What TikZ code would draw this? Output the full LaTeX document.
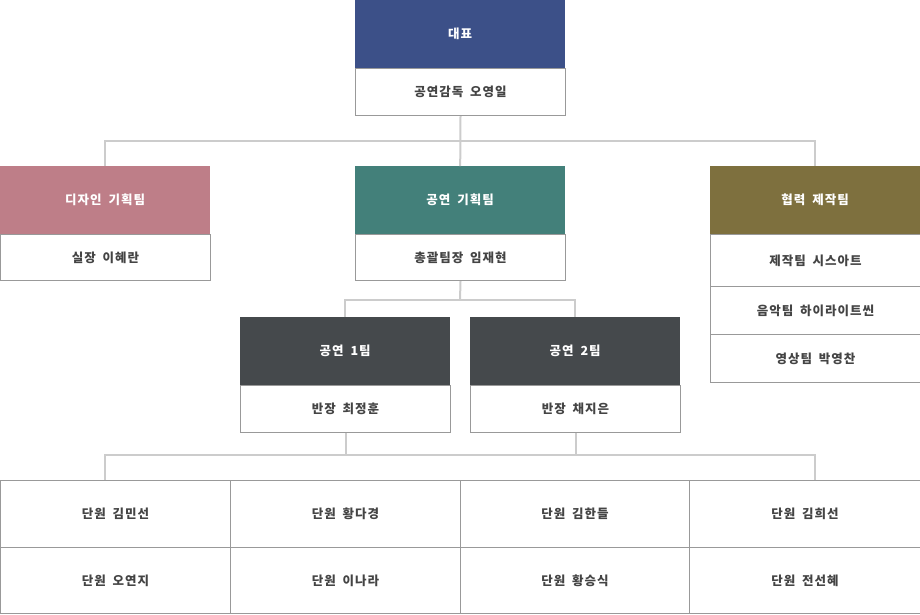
\documentclass[tikz,border=0pt]{standalone}
\usepackage{fontspec}
\setmainfont{Noto Sans CJK KR}[LetterSpace=8,WordSpace=1.8]
\definecolor{cCeo}{HTML}{3C5088}
\definecolor{cDesign}{HTML}{BE7E88}
\definecolor{cPlan}{HTML}{43807A}
\definecolor{cCoop}{HTML}{7E703E}
\definecolor{cTeam}{HTML}{45494C}
\definecolor{cBorder}{HTML}{999999}
\definecolor{cConn}{HTML}{CCCCCC}
\definecolor{cText}{HTML}{444444}
\tikzset{
  hdr/.style={anchor=north west, inner sep=0pt, minimum width=210pt, minimum height=68pt,
    text=white, font=\fontsize{12.5}{15}\selectfont\bfseries},
  bodybox/.style={anchor=north west, inner sep=0pt, minimum width=210pt, draw=cBorder, line width=1pt,
    fill=white, text=cText, font=\fontsize{12.5}{15}\selectfont\bfseries},
  conn/.style={draw=cConn, line width=2pt},
}
\begin{document}
\begin{tikzpicture}[x=1pt,y=-1pt]
\useasboundingbox (0,0) rectangle (920,614);
\coordinate (j1) at (460,141);
\coordinate (j2) at (460,300);
\coordinate (j3) at (460,455);
\coordinate (c1) at (105,480);
\coordinate (c4) at (815,480);
% CEO
\node[hdr, fill=cCeo] (ceo) at (355,0) {대표};
\node[bodybox, minimum height=47pt] (ceoB) at (355,68) {공연감독 오영일};
% second level
\node[hdr, fill=cDesign] (design) at (0,166) {디자인 기획팀};
\node[bodybox, minimum height=46pt] (designB) at (0,234) {실장 이혜란};
\node[hdr, fill=cPlan] (plan) at (355,166) {공연 기획팀};
\node[bodybox, minimum height=46pt] (planB) at (355,234) {총괄팀장 임재현};
\node[hdr, fill=cCoop] (coop) at (710,166) {협력 제작팀};
\node[bodybox, minimum height=52pt] (coopB1) at (710,234) {제작팀 시스아트};
\node[bodybox, minimum height=48pt] (coopB2) at (710,286) {음악팀 하이라이트씬};
\node[bodybox, minimum height=48pt] (coopB3) at (710,334) {영상팀 박영찬};
% third level
\node[hdr, fill=cTeam] (t1) at (240,317) {공연 1팀};
\node[bodybox, minimum height=47pt] (t1B) at (240,385) {반장 최정훈};
\node[hdr, fill=cTeam] (t2) at (470,317) {공연 2팀};
\node[bodybox, minimum height=47pt] (t2B) at (470,385) {반장 채지은};
% members grid
\node[bodybox, minimum width=230pt, minimum height=67pt] (m1) at (0,480) {단원 김민선};
\node[bodybox, minimum width=230pt, minimum height=67pt] (m2) at (230,480) {단원 황다경};
\node[bodybox, minimum width=229pt, minimum height=67pt] (m3) at (460,480) {단원 김한들};
\node[bodybox, minimum width=231pt, minimum height=67pt] (m4) at (689,480) {단원 김희선};
\node[bodybox, minimum width=230pt, minimum height=66pt] (m5) at (0,547) {단원 오연지};
\node[bodybox, minimum width=230pt, minimum height=66pt] (m6) at (230,547) {단원 이나라};
\node[bodybox, minimum width=229pt, minimum height=66pt] (m7) at (460,547) {단원 황승식};
\node[bodybox, minimum width=231pt, minimum height=66pt] (m8) at (689,547) {단원 전선혜};
% connectors
\draw[conn] (ceoB.south) -- (plan.north);
\draw[conn] (design.north) |- (j1) -| (coop.north);
\draw[conn] (planB.south) -- (j2);
\draw[conn] (t1.north) |- (j2) -| (t2.north);
\draw[conn] (t1B.south) -- (t1B.south |- j3);
\draw[conn] (t2B.south) -- (t2B.south |- j3);
\draw[conn] (c1) |- (j3) -| (c4);
\end{tikzpicture}
\end{document}
